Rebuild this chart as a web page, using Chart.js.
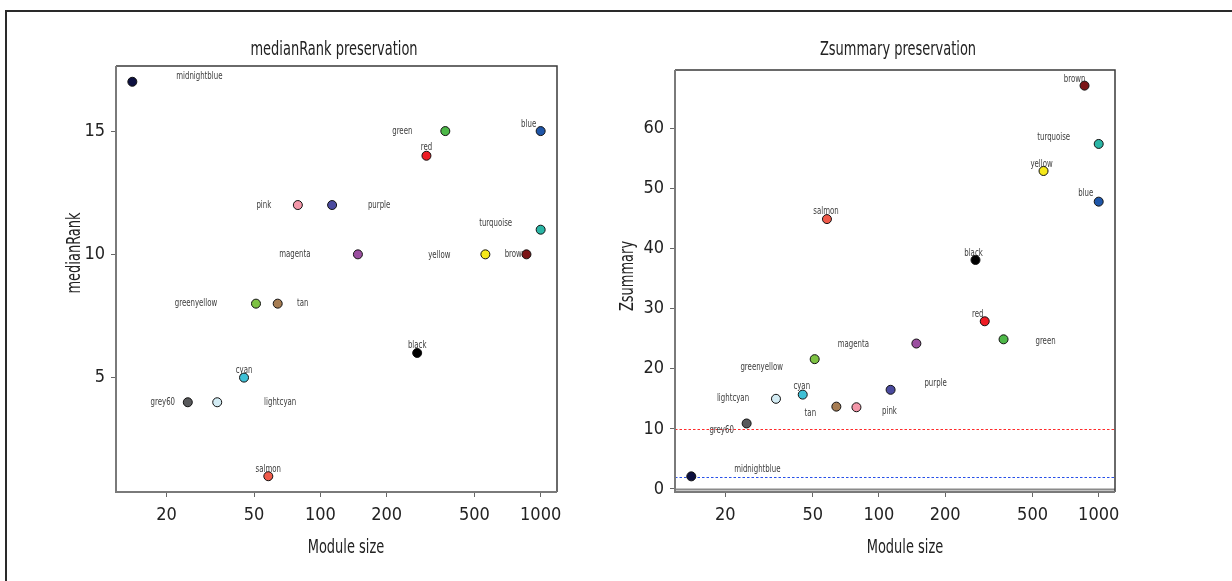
<!DOCTYPE html>
<html>
<head>
<meta charset="utf-8">
<script src="https://cdn.jsdelivr.net/npm/chart.js@4.4.1/dist/chart.umd.min.js"></script>
<style>
  html, body { margin: 0; padding: 0; background: #fff; }
  #wrap { position: relative; width: 1232px; height: 581px; overflow: hidden; background: #fff; }
  #frame { position: absolute; left: 5px; top: 10px; width: 1400px; height: 800px;
           border-top: 2px solid #2a2a2a; border-left: 2px solid #2a2a2a; }
  canvas { position: absolute; top: 0; }
  #c1 { left: 0; }
  #c2 { left: 608px; }
</style>
</head>
<body>
<div id="wrap">
  <div id="frame"></div>
  <canvas id="c1" width="608" height="581"></canvas>
  <canvas id="c2" width="624" height="581"></canvas>
</div>
<script>
// ---------------- data ----------------
const modules     = ['midnightblue','grey60','lightcyan','cyan','greenyellow','salmon','tan','pink','purple','magenta','black','red','green','yellow','brown','turquoise','blue'];
const moduleSize  = [14, 25, 34, 45, 51, 58, 64, 79, 113, 148, 275, 303, 369, 561, 862, 1000, 1000];
const medianRank  = [17, 4, 4, 5, 8, 1, 8, 12, 12, 10, 6, 14, 15, 10, 10, 11, 15];
const zSummary    = [2.1, 10.9, 15.0, 15.7, 21.6, 44.9, 13.7, 13.6, 16.5, 24.2, 38.1, 27.9, 24.9, 52.9, 67.1, 57.4, 47.8];
const sizeTicks   = [20, 50, 100, 200, 500, 1000];
const rankTicks   = [5, 10, 15];
const zTicks      = [0, 10, 20, 30, 40, 50, 60];
const zThresholds = [10, 2];

// ---------------- styles ----------------
const markerColors = ['#0d1040','#58595b','#d3ecf4','#3ec0d6','#7dc242','#ef5a4a','#a67c52','#f497a9','#4a4a9e','#9b4fa0','#000000','#ee1c24','#4db848','#f5e81a','#7b1416','#2ab5a5','#1f56a8'];
const rankLabelOffsets = [[67,-6],[-25,0],[63,0],[0,-7],[-60,0],[0,-7],[25,0],[-34,0],[47,0],[-63,0],[0,-8],[0,-8],[-43,0],[-46,1],[-11,0],[-45,-6],[-12,-7]];
const zLabelOffsets    = [[66,-7],[-25,7],[-43,-1],[-1,-8],[-53,8],[-1,-8],[-26,7],[33,4],[45,-7],[-63,1],[-2,-7],[-7,-7],[42,2],[-2,-7],[-10,-6],[-45,-7],[-13,-8]];
const FONT = '"Liberation Sans Narrow", "DejaVu Sans Condensed", "Noto Sans", sans-serif';

function logRange(vals) {
  const lo = Math.log10(Math.min(...vals)), hi = Math.log10(Math.max(...vals));
  const p = (hi - lo) * 0.04;
  return [Math.pow(10, lo - p), Math.pow(10, hi + p)];
}
function linRange(vals) {
  const lo = Math.min(...vals), hi = Math.max(...vals);
  const p = (hi - lo) * 0.04;
  return [lo - p, hi + p];
}

// draws real text, horizontally condensed to mimic the narrow font of the original
function condensedText(ctx, text, x, y, sx, rot) {
  ctx.save();
  ctx.translate(x, y);
  if (rot) ctx.rotate(rot);
  ctx.scale(sx, 1);
  ctx.fillText(text, 0, 0);
  ctx.restore();
}

function makeDecor(cfg) {
  return {
    id: 'decor',
    beforeDatasetsDraw(chart) {
      const { ctx, chartArea: a, scales: { y } } = chart;
      ctx.save();
      // reference lines
      (cfg.hlines || []).forEach(h => {
        const py = Math.round(y.getPixelForValue(h.value)) + 0.5;
        ctx.beginPath();
        ctx.strokeStyle = h.color;
        ctx.lineWidth = h.width;
        ctx.setLineDash(h.dash || []);
        ctx.moveTo(a.left, py);
        ctx.lineTo(a.right, py);
        ctx.stroke();
      });
      ctx.setLineDash([]);
      // box: top/right dark, left/bottom grey
      ctx.lineWidth = 1.5;
      ctx.strokeStyle = '#3a3a3a';
      ctx.beginPath();
      ctx.moveTo(a.left, a.top); ctx.lineTo(a.right, a.top); ctx.lineTo(a.right, a.bottom);
      ctx.stroke();
      ctx.lineWidth = 2;
      ctx.strokeStyle = '#7a7a7a';
      ctx.beginPath();
      ctx.moveTo(a.left, a.top); ctx.lineTo(a.left, a.bottom); ctx.lineTo(a.right, a.bottom);
      ctx.stroke();
      // point labels (under the markers)
      const meta = chart.getDatasetMeta(0);
      ctx.font = '10.5px ' + FONT;
      ctx.fillStyle = '#3c3c3c';
      ctx.textAlign = 'center';
      ctx.textBaseline = 'middle';
      meta.data.forEach((pt, i) => {
        const off = cfg.offsets[i];
        condensedText(ctx, modules[i], pt.x + off[0], pt.y + off[1], 0.74, 0);
      });
      ctx.restore();
    },
    afterDraw(chart) {
      const { ctx } = chart;
      ctx.save();
      ctx.fillStyle = '#222';
      ctx.textAlign = 'center';
      ctx.textBaseline = 'middle';
      ctx.font = '19px ' + FONT;
      condensedText(ctx, cfg.title, cfg.titlePos[0], cfg.titlePos[1], 0.76, 0);
      condensedText(ctx, cfg.xTitle, cfg.xTitlePos[0], cfg.xTitlePos[1], 0.76, 0);
      condensedText(ctx, cfg.yTitle, cfg.yTitlePos[0], cfg.yTitlePos[1], 0.76, -Math.PI / 2);
      ctx.restore();
    }
  };
}

function makeChart(id, yVals, yTickVals, cfg) {
  const [xmin, xmax] = logRange(moduleSize);
  const [ymin, ymax] = linRange(yVals);
  return new Chart(document.getElementById(id), {
    type: 'scatter',
    data: {
      datasets: [{
        data: moduleSize.map((s, i) => ({ x: s, y: yVals[i] })),
        pointBackgroundColor: markerColors,
        pointBorderColor: '#111',
        pointBorderWidth: 1,
        pointRadius: 4.5,
        pointHoverRadius: 4.5,
        showLine: false
      }]
    },
    options: {
      responsive: false,
      animation: false,
      devicePixelRatio: 1,
      events: [],
      layout: { padding: { left: 0, top: cfg.padTop, right: cfg.padRight, bottom: 0 } },
      plugins: { legend: { display: false }, tooltip: { enabled: false }, title: { display: false } },
      scales: {
        x: {
          type: 'logarithmic',
          min: xmin, max: xmax,
          afterBuildTicks: s => { s.ticks = sizeTicks.map(v => ({ value: v })); },
          afterFit: s => { s.height = cfg.xAxisH; },
          border: { display: false },
          grid: { display: true, drawOnChartArea: false, drawTicks: true, tickLength: 5, color: '#666', lineWidth: 1 },
          ticks: { autoSkip: false, maxRotation: 0, padding: 8, color: '#222', font: { family: FONT, size: 18 },
                   callback: v => String(v) }
        },
        y: {
          type: 'linear',
          min: ymin, max: ymax,
          afterBuildTicks: s => { s.ticks = yTickVals.map(v => ({ value: v })); },
          afterFit: s => { s.width = cfg.yAxisW; },
          border: { display: false },
          grid: { display: true, drawOnChartArea: false, drawTicks: true, tickLength: 5, color: '#666', lineWidth: 1 },
          ticks: { autoSkip: false, padding: 6, color: '#222', font: { family: FONT, size: 18 },
                   callback: v => String(v) }
        }
      }
    },
    plugins: [makeDecor(cfg)]
  });
}

makeChart('c1', medianRank, rankTicks, {
  padTop: 66, padRight: 51, xAxisH: 89, yAxisW: 116,
  offsets: rankLabelOffsets,
  title: 'medianRank preservation', titlePos: [334, 50],
  xTitle: 'Module size', xTitlePos: [346, 548],
  yTitle: 'medianRank', yTitlePos: [75, 253],
  hlines: []
});

makeChart('c2', zSummary, zTicks, {
  padTop: 70, padRight: 117, xAxisH: 89, yAxisW: 67,
  offsets: zLabelOffsets,
  title: 'Zsummary preservation', titlePos: [290, 50],
  xTitle: 'Module size', xTitlePos: [297, 548],
  yTitle: 'Zsummary', yTitlePos: [20, 276],
  hlines: [
    { value: 0, color: '#8a8a8a', width: 2, dash: [] },
    { value: zThresholds[0], color: '#ff2a2a', width: 1.2, dash: [2.5, 2] },
    { value: zThresholds[1], color: '#2850e8', width: 1.2, dash: [2.5, 2] }
  ]
});
</script>
</body>
</html>
